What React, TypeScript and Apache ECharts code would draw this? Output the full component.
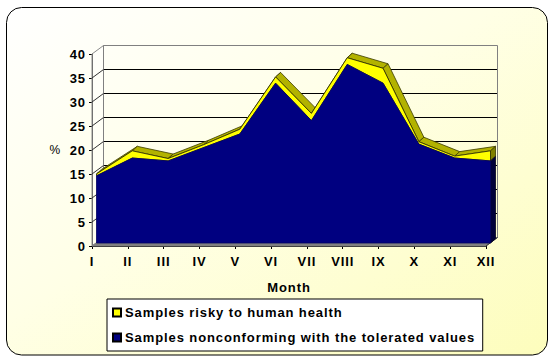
import React, { useEffect, useRef } from "react";
import * as echarts from "echarts";

const months = ["I", "II", "III", "IV", "V", "VI", "VII", "VIII", "IX", "X", "XI", "XII"];
const nonconforming = [14.0, 17.7, 17.1, 19.9, 22.7, 33.3, 25.5, 37.2, 33.3, 20.6, 17.7, 17.1];
const risky = [0.4, 1.5, 0.5, 0.6, 1.0, 1.3, 1.5, 1.4, 3.1, 0.5, 0.4, 2.1];
const yTicks = [0, 5, 10, 15, 20, 25, 30, 35, 40];

const totals = nonconforming.map((v, i) => v + risky[i]);
const FRONT = [4.5, -3];
const TOP = [5, -4.5];
const WALL = [11.5, -8.5];
const FONT = "'Liberation Sans', Arial, sans-serif";

type P = number[];
const shift = (p: P, d: P) => [p[0] + d[0], p[1] + d[1]];

const poly = (points: P[], fill: any, stroke?: string, lineWidth = 1) => ({
  type: "polygon",
  silent: true,
  shape: { points },
  style: { fill, stroke: stroke || "none", lineWidth },
});
const seg = (a: P, b: P, stroke: string) => ({
  type: "line",
  silent: true,
  shape: { x1: a[0], y1: a[1], x2: b[0], y2: b[1] },
  style: { stroke, lineWidth: 1 },
});

const once = (draw: (api: any) => any[]) => (params: any, api: any) =>
  params.dataIndex === 0 ? { type: "group", children: draw(api) } : null;

const renderRoom = once((api) => {
  const a = api.coord([0, 0]);
  const b = api.coord([11, 0]);
  const top = api.coord([0, 40]);
  const topR = api.coord([11, 40]);
  const kids: any[] = [];
  kids.push(poly([a, top, shift(top, WALL), shift(a, WALL)], "rgba(255,255,255,0.35)", "#8a8a8a"));
  kids.push(
    poly(
      [shift(a, WALL), shift(top, WALL), shift(topR, WALL), shift(b, WALL)],
      "none",
      "#808080"
    )
  );
  kids.push(poly([a, b, shift(b, WALL), shift(a, WALL)], "#808080", "#808080"));
  yTicks.slice(1, -1).forEach((t) => {
    const p = api.coord([0, t]);
    kids.push(seg(p, shift(p, WALL), "#333333"));
  });
  kids.push(seg(b, shift(b, WALL), "#333333"));
  return kids;
});

const frontPoly = (api: any, upper: number[], lower?: number[]) => {
  const up = upper.map((v, i) => shift(api.coord([i, v]), FRONT));
  const low = lower
    ? lower.map((v, i) => shift(api.coord([i, v]), FRONT)).reverse()
    : [shift(api.coord([11, 0]), FRONT), shift(api.coord([0, 0]), FRONT)];
  return [...up, ...low];
};

const renderRisky = once((api) => {
  const kids: any[] = [];
  const up = totals.map((v, i) => shift(api.coord([i, v]), FRONT));
  for (let i = 0; i < up.length - 1; i++) {
    kids.push(
      poly([up[i], up[i + 1], shift(up[i + 1], TOP), shift(up[i], TOP)], "#b2b200", "#3a3a00", 0.8)
    );
  }
  const n = shift(api.coord([11, nonconforming[11]]), FRONT);
  const t = up[11];
  kids.push(poly([n, t, shift(t, TOP), shift(n, TOP)], "#808000", "#3a3a00", 0.8));
  kids.push(poly(frontPoly(api, totals, nonconforming), "#ffff00", "#222200", 0.8));
  return kids;
});

const renderNon = once((api) => {
  const n = shift(api.coord([11, nonconforming[11]]), FRONT);
  const z = shift(api.coord([11, 0]), FRONT);
  return [
    poly([n, z, shift(z, TOP), shift(n, TOP)], "#00003a", "#000020", 0.8),
    poly(frontPoly(api, nonconforming), "#000080", "#000060", 0.8),
  ];
});

const asData = (vals: number[]) => vals.map((v, i) => [i, v]);
const textStyle = { color: "#000", fontFamily: FONT, fontWeight: "bold" as const, fontSize: 13 };

export default function App() {
  const ref = useRef<HTMLDivElement>(null);
  useEffect(() => {
    const chart = echarts.init(ref.current!, null, { renderer: "svg" });
    chart.setOption({
      animation: false,
      backgroundColor: "#fff",
      graphic: [
        {
          type: "rect",
          z: -10,
          silent: true,
          shape: { x: 6.5, y: 7.5, width: 541, height: 347.5, r: 15 },
          style: {
            stroke: "#000",
            lineWidth: 1,
            fill: new echarts.graphic.LinearGradient(0, 0, 1, 1, [
              { offset: 0, color: "#ffffff" },
              { offset: 0.45, color: "#ffffe6" },
              { offset: 1, color: "#fdfdbc" },
            ]),
          },
        },
      ],
      grid: [
        { left: 92, top: 54, width: 394, height: 192 },
        { left: 103.5, top: 45.5, width: 394, height: 192 },
      ],
      xAxis: [
        {
          type: "category",
          gridIndex: 0,
          data: months,
          boundaryGap: false,
          axisLine: { lineStyle: { color: "#000" } },
          axisTick: { length: 3, lineStyle: { color: "#000" } },
          axisLabel: { ...textStyle, margin: 9, interval: 0 },
          splitLine: { show: false },
          name: "Month",
          nameLocation: "middle",
          nameGap: 35,
          nameTextStyle: textStyle,
        },
        {
          type: "category",
          gridIndex: 1,
          data: months,
          boundaryGap: false,
          axisLine: { show: false },
          axisTick: { show: false },
          axisLabel: { show: false },
        },
      ],
      yAxis: [
        {
          type: "value",
          gridIndex: 0,
          min: 0,
          max: 40,
          interval: 5,
          axisLine: { show: true, lineStyle: { color: "#000" } },
          axisTick: { show: true, length: 3, lineStyle: { color: "#000" } },
          axisLabel: { ...textStyle, margin: 6 },
          splitLine: { show: false },
          name: "%",
          nameLocation: "middle",
          nameGap: 31,
          nameRotate: 0,
          nameTextStyle: { color: "#000", fontFamily: FONT, fontSize: 12 },
        },
        {
          type: "value",
          gridIndex: 1,
          min: 0,
          max: 40,
          interval: 5,
          axisLine: { show: false },
          axisTick: { show: false },
          axisLabel: { show: false },
          splitLine: {
            show: true,
            showMinLine: false,
            showMaxLine: false,
            lineStyle: { color: "#000", width: 1 },
          },
        },
      ],
      legend: {
        left: 107,
        top: 299,
        orient: "vertical",
        backgroundColor: "#fff",
        borderColor: "#000",
        borderWidth: 1,
        padding: [7, 50, 7, 5],
        itemGap: 12,
        itemWidth: 8,
        itemHeight: 8,
        icon: "rect",
        selectedMode: false,
        textStyle: { ...textStyle, padding: [0, 0, 0, -1] },
        data: ["Samples risky to human health", "Samples nonconforming with the tolerated values"],
      },
      series: [
        {
          type: "custom",
          name: "room",
          xAxisIndex: 0,
          yAxisIndex: 0,
          z: 1,
          silent: true,
          renderItem: renderRoom,
          data: asData(yTicks.map(() => 0)).slice(0, 1),
        },
        {
          type: "custom",
          name: "Samples risky to human health",
          xAxisIndex: 0,
          yAxisIndex: 0,
          z: 3,
          silent: true,
          itemStyle: { color: "#ffff00", borderColor: "#000", borderWidth: 1 },
          renderItem: renderRisky,
          data: asData(risky),
        },
        {
          type: "custom",
          name: "Samples nonconforming with the tolerated values",
          xAxisIndex: 0,
          yAxisIndex: 0,
          z: 4,
          silent: true,
          itemStyle: { color: "#000080", borderColor: "#000", borderWidth: 1 },
          renderItem: renderNon,
          data: asData(nonconforming),
        },
      ],
    });
    return () => chart.dispose();
  }, []);
  return (
    <div
      ref={ref}
      style={{ position: "absolute", left: 0, top: 0, width: 558, height: 364, letterSpacing: "0.9px" }}
    />
  );
}
